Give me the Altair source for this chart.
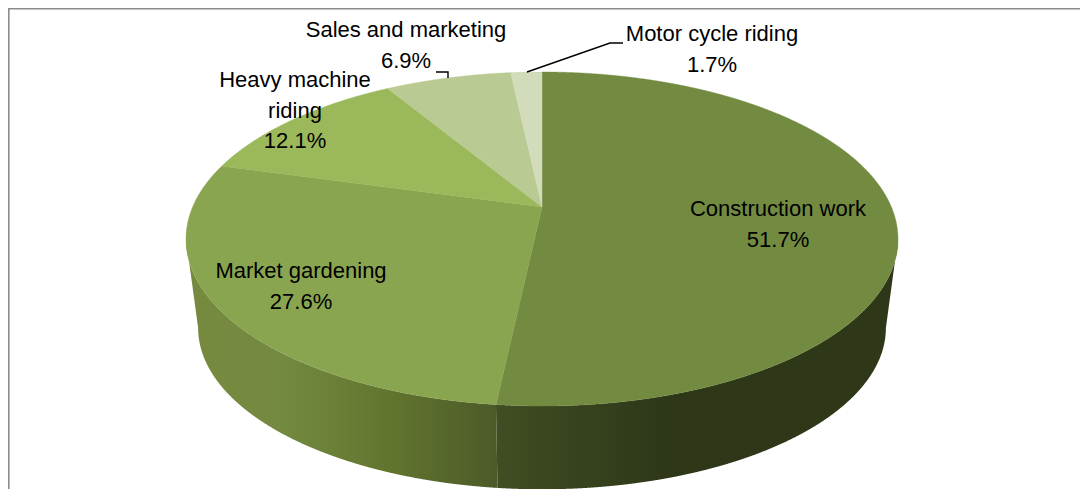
import numpy as np
import pandas as pd
import altair as alt

categories = ["Construction work", "Market gardening", "Heavy machine riding", "Sales and marketing", "Motor cycle riding"]
shares = [51.7, 27.6, 12.1, 6.9, 1.7]
top_colors = ["#738b41", "#8aa550", "#9bb95a", "#b9cb93", "#d2dcbb"]
label_text = ["Construction work\n51.7%", "Market gardening\n27.6%", "Heavy machine\nriding\n12.1%",
              "Sales and marketing\n6.9%", "Motor cycle riding\n1.7%"]
label_x = [778, 301, 295, 406, 712]
label_y = [199, 261, 70, 20, 24]

# view geometry, in the page's pixels
CX, CY, A, B, K = 542.0, 207.0, 349.4, 160.9, 0.1916
SHRINK, LOWER_CY = 0.966, 297.0
X0, X1, Y0, Y1 = 8.0, 1080.0, 8.0, 489.0


def rim(theta, lower=False):
    u, v = np.sin(theta), np.cos(theta)
    d = 1 + K * v
    s = SHRINK if lower else 1.0
    return CX + s * A * u / d, (LOWER_CY if lower else CY) - s * B * v / d


def spans(px, py, key, n=700):
    px, py = np.asarray(px), np.asarray(py)
    grid = np.unique(np.concatenate([np.linspace(px.min(), px.max(), n), px]))
    rows = []
    qx, qy = np.roll(px, -1), np.roll(py, -1)
    for x in grid:
        hit = []
        for a, b, c, d in zip(px, py, qx, qy):
            if min(a, c) <= x <= max(a, c):
                if a == c:
                    hit += [b, d]
                else:
                    hit.append(b + (d - b) * (x - a) / (c - a))
        rows.append({"x": x, "y": min(hit), "y2": max(hit), "key": key})
    return pd.DataFrame(rows)


edges = np.radians(np.concatenate([[0], np.cumsum(shares)]) * 3.6)
xs = alt.X("x:Q", axis=None, scale=alt.Scale(domain=[X0, X1], nice=False, zero=False))
ys = alt.Y("y:Q", axis=None, scale=alt.Scale(domain=[Y1, Y0], nice=False, zero=False))

layers = []

# side walls
theta_left = 2 * np.pi - np.arccos(-K)
theta_right = np.arccos(-K)


def wall(t0, t1, key):
    t = np.linspace(t0, t1, 160)
    tx, ty = rim(t)
    bx, by = rim(t[::-1], lower=True)
    return spans(np.concatenate([tx, bx]), np.concatenate([ty, by]), key)


def grad(stops):
    return alt.Gradient(gradient="linear", x1=0, x2=1, y1=0, y2=0,
                        stops=[alt.GradientStop(offset=o, color=c) for o, c in stops])


wall_a = wall(edges[1], theta_left, "market")
wall_b = wall(theta_right, edges[1], "construction")
layers.append(alt.Chart(wall_a).mark_area(color=grad([(0, "#76893f"), (0.3, "#748a40"), (0.65, "#62752f"), (1, "#4c5a28")]))
              .encode(x=xs, y=ys, y2="y2:Q"))
layers.append(alt.Chart(wall_b).mark_area(color=grad([(0, "#414d22"), (0.42, "#2e3819"), (1, "#2e3819")]))
              .encode(x=xs, y=ys, y2="y2:Q"))

# top wedges
for i, c in enumerate(top_colors):
    t = np.linspace(edges[i], edges[i + 1], max(8, int(shares[i] * 6)))
    px, py = rim(t)
    d = spans(np.append(px, CX), np.append(py, CY), categories[i])
    layers.append(alt.Chart(d).mark_area(color=c, stroke=c, strokeWidth=0.4).encode(x=xs, y=ys, y2="y2:Q"))

# leader lines
leader_a = pd.DataFrame({"x": [527, 610, 623], "y": [72, 43, 43], "o": [0, 1, 2]})
leader_b = pd.DataFrame({"x": [436, 448, 448], "y": [72, 72, 78], "o": [0, 1, 2]})
for leader in (leader_a, leader_b):
    layers.append(alt.Chart(leader).mark_line(color="#000000", strokeWidth=1.4)
                  .encode(x=xs, y=ys, order="o:Q"))

# frame
frame_top = pd.DataFrame({"x": [X0, X1], "y": [8.6, 8.6]})
frame_left = pd.DataFrame({"x": [8.8, 8.8], "y": [Y0, Y1]})
for f in (frame_top, frame_left):
    layers.append(alt.Chart(f).mark_line(color="#8c8c8c", strokeWidth=1.6).encode(x=xs, y=ys))

# labels
labels = pd.DataFrame({"x": label_x, "y": label_y, "t": label_text})
layers.append(alt.Chart(labels).mark_text(font="Liberation Sans", fontSize=22, lineBreak="\n", lineHeight=30.5,
                                          baseline="top", align="center", color="#000000")
              .encode(x=xs, y=ys, text="t:N"))

chart = alt.layer(*layers).properties(
    width=X1 - X0, height=Y1 - Y0, padding=0, autosize=alt.AutoSizeParams(type="none"),
    background="#ffffff",
).configure_view(stroke=None)
chart.save("out.html", embed_options={"renderer": "svg", "actions": False})
